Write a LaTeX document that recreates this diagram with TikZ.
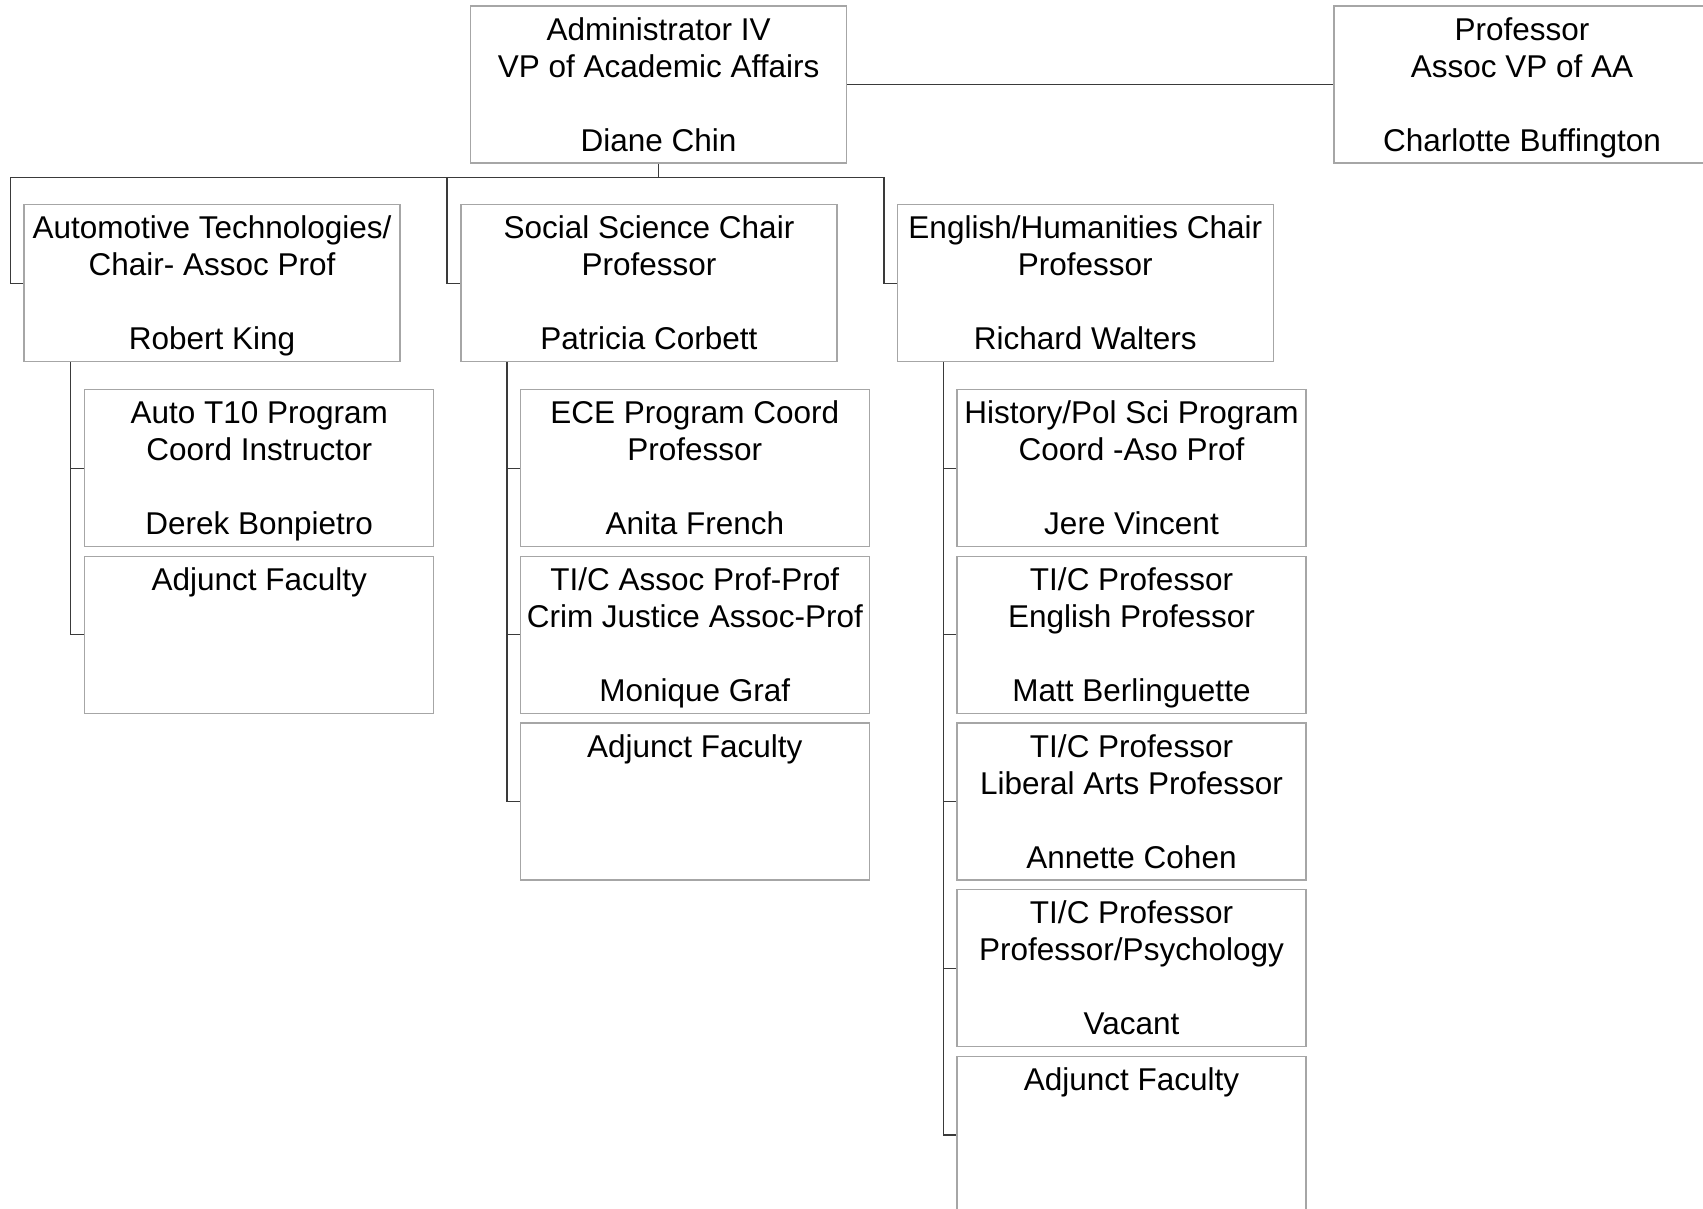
\documentclass[tikz,border=0pt]{standalone}
\usepackage{fontspec}
\setmainfont{Liberation Sans}
\definecolor{boxgray}{HTML}{A6A6A6}
\definecolor{linegray}{HTML}{3A3A3A}
\tikzset{
  orgbox/.style={draw=boxgray, line width=1.3pt, fill=white, minimum width=376pt, minimum height=157pt, inner sep=0pt},
  kidbox/.style={orgbox, minimum width=349pt},
  orgtext/.style={anchor=north, align=center, inner sep=0pt, font=\fontsize{31.5}{37}\selectfont},
  conn/.style={draw=linegray, line width=1.3pt}
}
\newcommand{\fl}{\rule{0pt}{26pt}}
\begin{document}
\begin{tikzpicture}[x=1pt,y=-1pt]
\useasboundingbox (0,0) rectangle (1703,1208);
\clip (0,0) rectangle (1703,1208);
% top level
\node[orgbox] (vp) at (658.65,84.5) {};
\node[orgbox] (avp) at (1522,84.5) {};
% chairs
\node[orgbox] (auto) at (212,283.2) {};
\node[orgbox] (soc) at (649,283.2) {};
\node[orgbox] (eng) at (1085.3,283.2) {};
% auto children
\node[kidbox] (a1) at (259.2,468.2) {};
\node[kidbox] (a2) at (259.2,634.8) {};
% social children
\node[kidbox] (s1) at (694.8,468.2) {};
\node[kidbox] (s2) at (694.8,634.8) {};
\node[kidbox] (s3) at (694.8,801.5) {};
% english children
\node[kidbox] (e1) at (1131.5,468.2) {};
\node[kidbox] (e2) at (1131.5,634.8) {};
\node[kidbox] (e3) at (1131.5,801.5) {};
\node[kidbox] (e4) at (1131.5,968.2) {};
\node[kidbox] (e5) at (1131.5,1134.9) {};
% texts
\node[orgtext] (tvp) at ([yshift=-8.5pt]vp.north) {\fl Administrator IV\\VP of Academic Affairs\\[37pt]Diane Chin};
\node[orgtext] (tavp) at ([yshift=-8.5pt]avp.north) {\fl Professor\\Assoc VP of AA\\[37pt]Charlotte Buffington};
\node[orgtext] (tauto) at ([yshift=-8.5pt]auto.north) {\fl Automotive Technologies/\\Chair- Assoc Prof\\[37pt]Robert King};
\node[orgtext] (tsoc) at ([yshift=-8.5pt]soc.north) {\fl Social Science Chair\\Professor\\[37pt]Patricia Corbett};
\node[orgtext] (teng) at ([yshift=-8.5pt]eng.north) {\fl English/Humanities Chair\\Professor\\[37pt]Richard Walters};
\node[orgtext] (ta1) at ([yshift=-8.5pt]a1.north) {\fl Auto T10 Program\\Coord Instructor\\[37pt]Derek Bonpietro};
\node[orgtext] (ta2) at ([yshift=-8.5pt]a2.north) {\fl Adjunct Faculty};
\node[orgtext] (ts1) at ([yshift=-8.5pt]s1.north) {\fl ECE Program Coord\\Professor\\[37pt]Anita French};
\node[orgtext] (ts2) at ([yshift=-8.5pt]s2.north) {\fl TI/C Assoc Prof-Prof\\Crim Justice Assoc-Prof\\[37pt]Monique Graf};
\node[orgtext] (ts3) at ([yshift=-8.5pt]s3.north) {\fl Adjunct Faculty};
\node[orgtext] (te1) at ([yshift=-8.5pt]e1.north) {\fl History/Pol Sci Program\\Coord -Aso Prof\\[37pt]Jere Vincent};
\node[orgtext] (te2) at ([yshift=-8.5pt]e2.north) {\fl TI/C Professor\\English Professor\\[37pt]Matt Berlinguette};
\node[orgtext] (te3) at ([yshift=-8.5pt]e3.north) {\fl TI/C Professor\\Liberal Arts Professor\\[37pt]Annette Cohen};
\node[orgtext] (te4) at ([yshift=-8.5pt]e4.north) {\fl TI/C Professor\\Professor/Psychology\\[37pt]Vacant};
\node[orgtext] (te5) at ([yshift=-8.5pt]e5.north) {\fl Adjunct Faculty};
% connectors
\coordinate (busL) at (10.3,177.3);
\coordinate (busM) at (447,177.3);
\coordinate (busR) at (884,177.3);
\coordinate (trA) at (70.6,0);
\coordinate (trS) at (506.9,0);
\coordinate (trE) at (943.6,0);
\draw[conn] (vp.east) -- (avp.west);
\draw[conn] (vp.south) -- (vp.south |- busL);
\draw[conn] (auto.west) -| (busL) -- (busR) |- (eng.west);
\draw[conn] (busM) |- (soc.west);
\draw[conn] (auto.south -| trA) |- (a2.west);
\draw[conn] (trA |- a1.west) -- (a1.west);
\draw[conn] (soc.south -| trS) |- (s3.west);
\draw[conn] (trS |- s1.west) -- (s1.west);
\draw[conn] (trS |- s2.west) -- (s2.west);
\draw[conn] (eng.south -| trE) |- (e5.west);
\draw[conn] (trE |- e1.west) -- (e1.west);
\draw[conn] (trE |- e2.west) -- (e2.west);
\draw[conn] (trE |- e3.west) -- (e3.west);
\draw[conn] (trE |- e4.west) -- (e4.west);
\end{tikzpicture}
\end{document}
